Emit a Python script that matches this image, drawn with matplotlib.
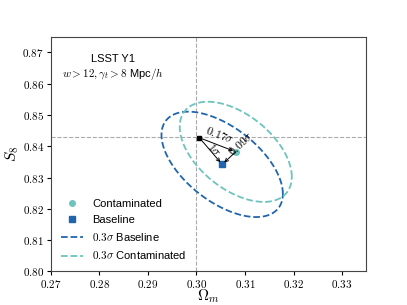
import numpy as np
import matplotlib
matplotlib.use("Agg")
import matplotlib.pyplot as plt

plt.rcParams['mathtext.fontset'] = 'cm'
plt.rcParams['font.family'] = ['Liberation Sans', 'DejaVu Sans']

# fiducial cosmology and shifted best fits
fiducial = (0.3, 0.843)
truth_pt = (0.3006, 0.8427)
baseline_pt = (0.3053, 0.8342)
contam_pt = (0.3081, 0.8382)

# 0.3 sigma contours: half-extent in Omega_m, half-extent in S8, correlation
baseline_ell = (0.01251, 0.01683, -0.56)
contam_ell = (0.01155, 0.0160, -0.50)

# shift sizes written on the arrows
shift_labels = [r'$0.17\sigma$', r'$0.09\sigma$', r'$1\sigma$']

xticks = [0.27, 0.28, 0.29, 0.30, 0.31, 0.32, 0.33]
yticks = [0.80, 0.81, 0.82, 0.83, 0.84, 0.85, 0.86, 0.87]

c_base = '#2166ac'
c_cont = '#6cc4bd'


def ellipse(center, ell, n=300):
    t = np.linspace(0, 2 * np.pi, n)
    a, b, rho = ell
    x = center[0] + a * np.cos(t)
    y = center[1] + b * (rho * np.cos(t) + np.sqrt(1 - rho ** 2) * np.sin(t))
    return x, y


fig = plt.figure(figsize=(4.07, 3.05), dpi=100)
ax = fig.add_subplot(111)

ax.axvline(fiducial[0], color='#aaaaaa', ls='--', lw=0.8, zorder=0)
ax.axhline(fiducial[1], color='#aaaaaa', ls='--', lw=0.8, zorder=0)

ax.plot(contam_pt[0], contam_pt[1], 'o', color=c_cont, ms=4, label='Contaminated')
ax.plot(baseline_pt[0], baseline_pt[1], 's', color=c_base, ms=4, label='Baseline')
ax.plot(*ellipse(baseline_pt, baseline_ell), ls='--', color=c_base, lw=1.3,
        label=r'$0.3\sigma$ Baseline')
ax.plot(*ellipse(contam_pt, contam_ell), ls='--', color=c_cont, lw=1.3,
        label=r'$0.3\sigma$ Contaminated')
ax.plot(truth_pt[0], truth_pt[1], 'ks', ms=2.5)

ax.set_xlim(0.27, 0.335)
ax.set_ylim(0.80, 0.875)
ax.set_xticks(xticks)
ax.set_yticks(yticks)
ax.set_xticklabels([r'$%.2f$' % v for v in xticks], fontsize=8)
ax.set_yticklabels([r'$%.2f$' % v for v in yticks], fontsize=8)
ax.tick_params(length=3, width=0.8, pad=2)
for s in ax.spines.values():
    s.set_color('#444444')
ax.set_xlabel(r'$\Omega_m$', fontsize=11)
ax.set_ylabel(r'$S_8$', fontsize=11)
ax.xaxis.set_label_coords(0.5, -0.07)
ax.yaxis.set_label_coords(-0.095, 0.5)

ax.text(0.2828, 0.8679, 'LSST Y1', fontsize=8, ha='center', va='center')
ax.text(0.2828, 0.8631, r'$w > 12, \gamma_t > 8$ Mpc$/h$', fontsize=8,
        ha='center', va='center')

# arrows between the points
arr = dict(arrowstyle='->', lw=0.7, color='k', shrinkA=0, shrinkB=2,
           mutation_scale=6)
ax.annotate('', xy=contam_pt, xytext=truth_pt, arrowprops=arr)
ax.annotate('', xy=baseline_pt, xytext=contam_pt, arrowprops=arr)
ax.annotate('', xy=baseline_pt, xytext=truth_pt, arrowprops=arr)


def angle(p, q):
    a = ax.transData.transform(p)
    b = ax.transData.transform(q)
    ang = np.degrees(np.arctan2(b[1] - a[1], b[0] - a[0]))
    if ang > 90:
        ang -= 180
    if ang < -90:
        ang += 180
    return ang


text_pos = [(0.3048, 0.8435), (0.3092, 0.8405), (0.3036, 0.8388)]
pairs = [(truth_pt, contam_pt), (contam_pt, baseline_pt), (truth_pt, baseline_pt)]
for lab, pos, (p, q) in zip(shift_labels, text_pos, pairs):
    ax.text(pos[0], pos[1], lab, fontsize=8.5, rotation=angle(p, q),
            ha='center', va='center', rotation_mode='anchor')

ax.legend(loc='lower left', bbox_to_anchor=(0.0, 0.0), frameon=False,
          fontsize=8, handlelength=2.0, labelspacing=0.55, handletextpad=0.8)

fig.savefig('out.png', dpi=100)
